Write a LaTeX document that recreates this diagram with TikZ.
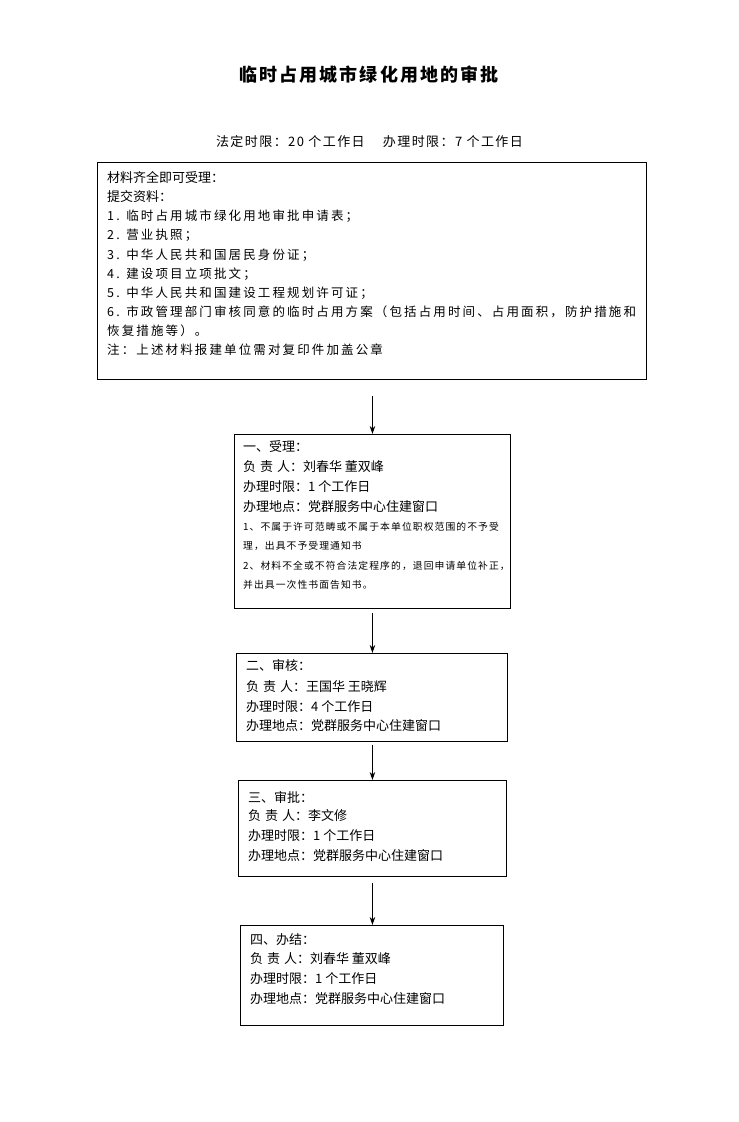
\documentclass[tikz,border=0pt]{standalone}
\usepackage{fontspec}
\newfontfamily\cjk{Noto Sans CJK SC}
\newfontfamily\cjkw[LetterSpace=17]{Noto Sans CJK SC}
\newfontfamily\cjkt[LetterSpace=12]{Noto Sans CJK SC}
\newfontfamily\cjks[LetterSpace=11]{Noto Sans CJK SC}
\newfontfamily\cjksm[LetterSpace=11]{Noto Sans CJK SC}
\usetikzlibrary{arrows.meta}
\tikzset{
  box/.style={draw=black, line width=0.9pt, anchor=north west, inner sep=0pt},
  ln/.style={anchor=west, inner sep=0pt, font=\cjk\fontsize{13}{13}\selectfont},
  lnw/.style={anchor=west, inner sep=0pt, font=\cjkw\fontsize{12.5}{13}\selectfont},
  lns/.style={anchor=west, inner sep=0pt, font=\cjksm\fontsize{9.8}{10}\selectfont},
  arr/.style={-{Stealth[length=8pt,width=5.5pt]}, line width=0.9pt}
}
\begin{document}
\begin{tikzpicture}[x=1pt,y=-1pt]
\useasboundingbox[fill=white] (0,0) rectangle (739,1122);
\node[inner sep=0pt, font=\cjkt\bfseries\fontsize{18}{18}\selectfont] (title) at (369,75) {临时占用城市绿化用地的审批};
\node[inner sep=0pt, font=\cjks\fontsize{13}{13}\selectfont] (sub) at (369.5,142) {法定时限：20 个工作日\hspace{1.4em}办理时限：7 个工作日};
% box 0
\node[box, minimum width=549pt, minimum height=217pt] (b0) at (97,162) {};
\node[ln] (t01) at (107,177) {材料齐全即可受理：};
\node[ln] (t02) at (107,197) {提交资料：};
\node[lnw] (t03) at (107,216) {1. 临时占用城市绿化用地审批申请表；};
\node[lnw] (t04) at (107,235) {2. 营业执照；};
\node[lnw] (t05) at (107,255) {3. 中华人民共和国居民身份证；};
\node[lnw] (t06) at (107,274) {4. 建设项目立项批文；};
\node[lnw] (t07) at (107,293) {5. 中华人民共和国建设工程规划许可证；};
\node[lnw] (t08) at (107,312) {6. 市政管理部门审核同意的临时占用方案（包括占用时间、占用面积，防护措施和};
\node[lnw] (t09) at (107,331) {恢复措施等）。};
\node[lnw] (t10) at (107,350) {注：上述材料报建单位需对复印件加盖公章};
% box 1
\node[box, minimum width=276pt, minimum height=174pt] (b1) at (234,434) {};
\node[ln] (t11) at (243,447) {一、受理：};
\node[ln] (t12) at (243,467) {负\hspace{0.3em}责\hspace{0.3em}人：刘春华 董双峰};
\node[ln] (t13) at (243,487) {办理时限：1 个工作日};
\node[ln] (t14) at (243,507) {办理地点：党群服务中心住建窗口};
\node[lns] (t15) at (243,527) {1、不属于许可范畴或不属于本单位职权范围的不予受};
\node[lns] (t16) at (243,546) {理，出具不予受理通知书};
\node[lns] (t17) at (243,566) {2、材料不全或不符合法定程序的，退回申请单位补正，};
\node[lns] (t18) at (243,585) {并出具一次性书面告知书。};
% box 2
\node[box, minimum width=271pt, minimum height=88pt] (b2) at (236,653) {};
\node[ln] (t21) at (246,666) {二、审核：};
\node[ln] (t22) at (246,687) {负\hspace{0.3em}责\hspace{0.3em}人：王国华 王晓辉};
\node[ln] (t23) at (246,707) {办理时限：4 个工作日};
\node[ln] (t24) at (246,726) {办理地点：党群服务中心住建窗口};
% box 3
\node[box, minimum width=268pt, minimum height=96pt] (b3) at (238,780) {};
\node[ln] (t31) at (248,797) {三、审批：};
\node[ln] (t32) at (248,816) {负\hspace{0.3em}责\hspace{0.3em}人：李文修};
\node[ln] (t33) at (248,836) {办理时限：1 个工作日};
\node[ln] (t34) at (248,856) {办理地点：党群服务中心住建窗口};
% box 4
\node[box, minimum width=263pt, minimum height=100pt] (b4) at (240,925) {};
\node[ln] (t41) at (250,940) {四、办结：};
\node[ln] (t42) at (250,959) {负\hspace{0.3em}责\hspace{0.3em}人：刘春华 董双峰};
\node[ln] (t43) at (250,979) {办理时限：1 个工作日};
\node[ln] (t44) at (250,999) {办理地点：党群服务中心住建窗口};
% arrows
\draw[arr, shorten <=16pt] (b0.south -| b1.north) -- (b1.north);
\draw[arr, shorten <=4pt] (b1.south) -- (b1.south |- b2.north);
\draw[arr, shorten <=3pt] (b2.south -| b1.south) -- (b1.south |- b3.north);
\draw[arr, shorten <=6pt] (b3.south -| b1.south) -- (b1.south |- b4.north);
\end{tikzpicture}
\end{document}
